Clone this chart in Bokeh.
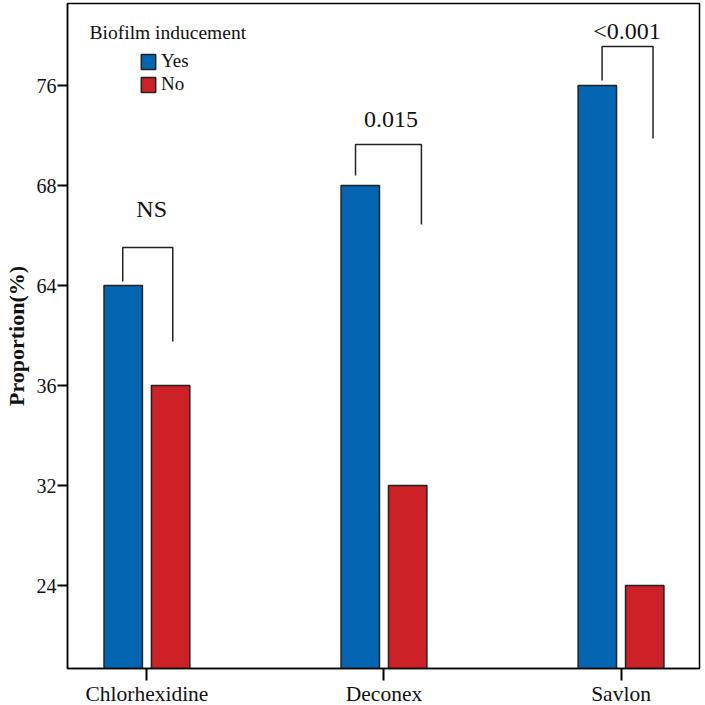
from bokeh.plotting import figure
from bokeh.models import Range1d, FixedTicker, Legend, LegendItem, ColumnDataSource
from bokeh.core.properties import value
from bokeh.embed import file_html
from bokeh.resources import INLINE

# ---- data ----
categories = ["Chlorhexidine", "Deconex", "Savlon"]
yes_values = [64, 68, 76]
no_values = [36, 32, 24]
y_tick_labels = [24, 32, 36, 64, 68, 76]
p_labels = ["NS", "0.015", "<0.001"]
legend_title = "Biofilm inducement"
series_names = ["Yes", "No"]

# bracket annotation geometry (axis units, relative to the category / tick slots)
bracket_left = [-0.102, -0.12, -0.08]
bracket_right = [0.109, 0.158, 0.135]
bracket_top = [0.38, 0.41, 0.39]        # above the "Yes" bar
bracket_left_end = [0.04, 0.10, 0.05]   # above the "Yes" bar
bracket_right_drop = [0.94, 0.80, 0.92] # below the bracket top
label_dy = [0.77, 0.66, 0.55]
label_dx = [0.02, 0.03, 0.025]

FONT = "Liberation Serif"
BLUE = "#0465b2"
RED = "#cc2126"

# the axis is an ordinal scale: each tick label gets one slot
slot = {v: i + 1 for i, v in enumerate(y_tick_labels)}
xpos = list(range(len(categories)))
yes_slot = [slot[v] for v in yes_values]
no_slot = [slot[v] for v in no_values]

p = figure(frame_width=632, frame_height=665, output_backend="svg",
           toolbar_location=None, x_range=Range1d(-0.335, 2.331),
           y_range=Range1d(0.17, 6.82), min_border_left=60,
           min_border_top=3, min_border_right=5, min_border_bottom=20)

p.xgrid.visible = False
p.ygrid.visible = False
p.outline_line_color = "black"
p.outline_line_width = 1.5
p.background_fill_color = "white"

off = 0.1
bw = 0.162
src_yes = ColumnDataSource(dict(x=[x - off for x in xpos], top=yes_slot))
src_no = ColumnDataSource(dict(x=[x + off for x in xpos], top=no_slot))
r_yes = p.vbar(x="x", top="top", bottom=0, width=bw, source=src_yes,
               fill_color=BLUE, line_color="#222222", line_width=1.5)
r_no = p.vbar(x="x", top="top", bottom=0, width=bw, source=src_no,
              fill_color=RED, line_color="#222222", line_width=1.5)

# brackets
xs, ys = [], []
for i, c in enumerate(xpos):
    top = yes_slot[i] + bracket_top[i]
    xs.append([c + bracket_left[i], c + bracket_left[i], c + bracket_right[i], c + bracket_right[i]])
    ys.append([yes_slot[i] + bracket_left_end[i], top, top, top - bracket_right_drop[i]])
p.multi_line(xs=xs, ys=ys, line_color="#222222", line_width=1.5)

p.text(x=[c + label_dx[i] for i, c in enumerate(xpos)],
       y=[yes_slot[i] + label_dy[i] for i in range(len(xpos))],
       text=p_labels, text_font=value(FONT), text_font_size=value("24px"),
       text_align="center", text_baseline="middle", text_color="#111111")

# legend title
p.text(x=[-0.242], y=[6.53], text=[legend_title], text_font=value(FONT),
       text_font_size=value("19.5px"), text_align="left", text_baseline="middle",
       text_color="#111111")

legend = Legend(items=[LegendItem(label=series_names[0], renderers=[r_yes]),
                       LegendItem(label=series_names[1], renderers=[r_no])],
                location=(72, 573), glyph_width=18, glyph_height=19,
                label_standoff=4, spacing=1, padding=0, margin=0,
                border_line_color=None, background_fill_alpha=0,
                label_text_font=FONT, label_text_font_size="19px",
                label_height=19, label_text_color="#111111")
p.add_layout(legend, "center")

# axes
p.xaxis.ticker = FixedTicker(ticks=xpos)
p.xaxis.major_label_overrides = {i: c for i, c in enumerate(categories)}
p.yaxis.ticker = FixedTicker(ticks=list(range(1, len(y_tick_labels) + 1)))
p.yaxis.major_label_overrides = {i + 1: str(v) for i, v in enumerate(y_tick_labels)}
for ax in (p.xaxis[0], p.yaxis[0]):
    ax.axis_line_color = "black"
    ax.axis_line_width = 1.5
    ax.major_tick_line_color = "black"
    ax.major_tick_line_width = 2
    ax.major_tick_in = 0
    ax.minor_tick_line_color = None
    ax.major_label_text_font = FONT
    ax.major_label_text_color = "#111111"
p.xaxis.major_tick_out = 12
p.yaxis.major_tick_out = 10
p.xaxis.major_label_text_font_size = "21.5px"
p.xaxis.major_label_standoff = 1
p.yaxis.major_label_text_font_size = "20px"
p.yaxis.major_label_standoff = 1
p.yaxis.axis_label = "Proportion(%)"
p.yaxis.axis_label_text_font = FONT
p.yaxis.axis_label_text_font_style = "bold"
p.yaxis.axis_label_text_font_size = "22px"
p.yaxis.axis_label_text_color = "#111111"
p.yaxis.axis_label_standoff = 5

open("out.html", "w").write(file_html(p, INLINE))
